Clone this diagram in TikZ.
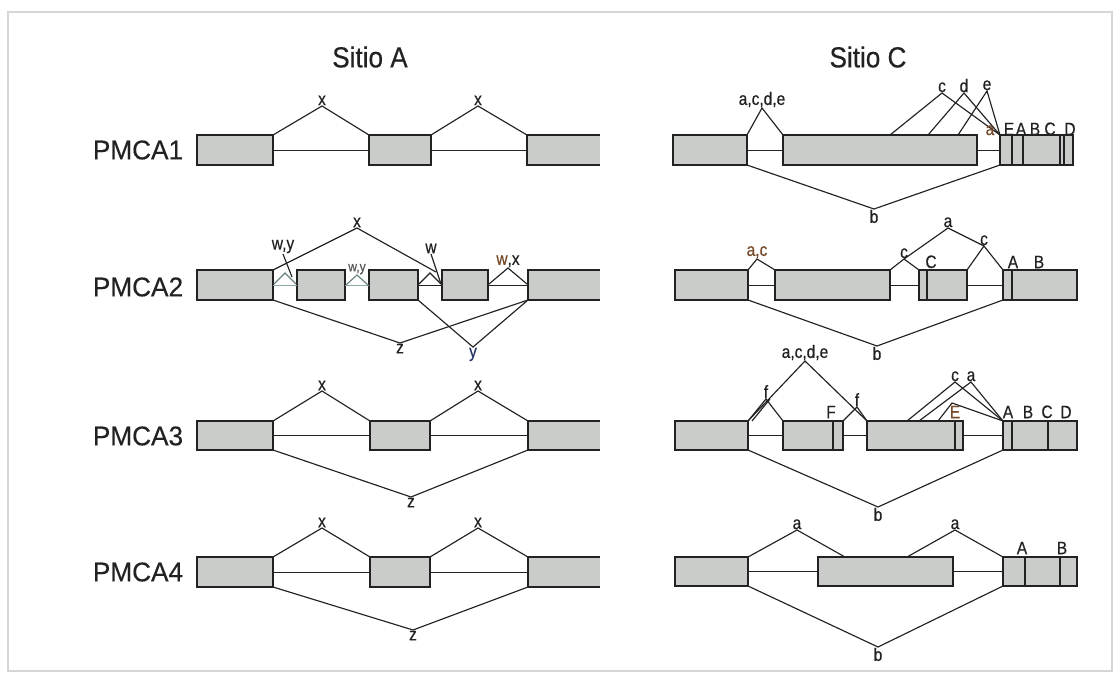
\documentclass[tikz,border=0pt]{standalone}
\usepackage{fontspec}
\setmainfont{Liberation Sans}
\newfontfamily\narrowfont[FakeStretch=0.86,FakeBold=0.5]{Liberation Sans}
\newfontfamily\headfont[FakeStretch=0.9,FakeBold=0.3]{Liberation Sans}
\newfontfamily\rowfont[FakeStretch=0.97,FakeBold=0.3]{Liberation Sans}
\usetikzlibrary{calc}
\definecolor{exonfill}{RGB}{201,204,201}
\definecolor{ink}{RGB}{34,34,34}
\definecolor{framegray}{RGB}{214,214,214}
\definecolor{brownlab}{RGB}{118,74,42}
\definecolor{bluelab}{RGB}{40,56,100}
\definecolor{paleline}{RGB}{140,168,168}
\begin{document}
\begin{tikzpicture}[x=1pt,y=-1pt,
  exon/.style={fill=exonfill, draw=ink, line width=1.2pt, inner sep=0pt, outer sep=0pt, anchor=north west, minimum height=30pt},
  exonopen/.style={fill=exonfill, draw=none, inner sep=0pt, outer sep=0pt, anchor=north west, minimum height=30pt},
  exonedge/.style={draw=ink, line width=1.2pt},
  exline/.style={draw=ink, line width=1.1pt},
  splice/.style={draw=ink, line width=1.15pt},
  intron/.style={draw=ink, line width=1pt},
  lab/.style={font=\narrowfont\fontsize{18}{18}\selectfont, text=ink, inner sep=0.6pt},
  smalllab/.style={font=\narrowfont\fontsize{14}{14}\selectfont, text=ink!75, inner sep=0.5pt},
  headlab/.style={font=\headfont\fontsize{29}{29}\selectfont, text=ink},
  rowlab/.style={font=\rowfont\fontsize{27}{27}\selectfont, text=ink}
]
\fill[white] (0,0) rectangle (1120,681);
\useasboundingbox (0,0) rectangle (1120,681);
\draw[framegray, line width=1.6pt] (8,12) rectangle (1112,671);

% column headings and row names
\node[headlab] (hA) at (370,57) {Sitio A};
\node[headlab] (hC) at (868,57) {Sitio C};
\node[rowlab] (r1) at (138,150) {PMCA1};
\node[rowlab] (r2) at (138,287) {PMCA2};
\node[rowlab] (r3) at (138,436) {PMCA3};
\node[rowlab] (r4) at (138,572) {PMCA4};

% ================= Sitio A =================
% PMCA1
\node[exon, minimum width=76pt] (A1a) at (197,135) {};
\node[exon, minimum width=62pt] (A1b) at (369,135) {};
\node[exonopen, minimum width=73pt] (A1c) at (527,135) {};
\draw[exonedge] (A1c.north east) -- (A1c.north west) -- (A1c.south west) -- (A1c.south east);
\draw[intron] (A1a.east) -- (A1b.west);
\draw[intron] (A1b.east) -- (A1c.west);
\node[lab, anchor=south] (A1x1) at (322,106) {x};
\node[lab, anchor=south] (A1x2) at (478,106) {x};
\draw[splice] (A1a.north east) -- (A1x1.south) -- (A1b.north west);
\draw[splice] (A1b.north east) -- (A1x2.south) -- (A1c.north west);

% PMCA2
\node[exon, minimum width=76pt] (A2a) at (197,270) {};
\node[exon, minimum width=48pt] (A2b) at (297,270) {};
\node[exon, minimum width=49pt] (A2c) at (369,270) {};
\node[exon, minimum width=46pt] (A2d) at (442,270) {};
\node[exonopen, minimum width=72pt] (A2e) at (528,270) {};
\draw[exonedge] (A2e.north east) -- (A2e.north west) -- (A2e.south west) -- (A2e.south east);
\draw[intron, paleline] (A2a.east) -- (A2b.west);
\draw[intron, paleline] (A2b.east) -- (A2c.west);
\draw[intron] (A2c.east) -- (A2d.west);
\draw[intron] (A2d.east) -- (A2e.west);
\node[lab, anchor=south] (A2x) at (357,228) {x};
\coordinate (A2xend) at (436,272);
\draw[splice] (A2a.north east) -- (A2x.south) -- (A2xend);
% small alternative sites between the short exons
\node[lab, anchor=south] (A2wy1) at (283,254) {w,y};
\coordinate (A2g1l) at (274,284); \coordinate (A2g1t) at (285,273); \coordinate (A2g1r) at (296,284);
\draw[splice, paleline!70!ink] (A2g1l) -- (A2g1t) -- (A2g1r);
\coordinate (A2g1s) at (292,277);
\draw[splice] (A2wy1.south) -- (A2g1s);
\node[smalllab, anchor=south] (A2wy2) at (357,275) {w,y};
\coordinate (A2g2l) at (346,285); \coordinate (A2g2r) at (368,285);
\draw[splice, paleline!70!ink] (A2g2l) -- (A2wy2.south) -- (A2g2r);
\node[lab, anchor=south] (A2w) at (431,254) {w};
\coordinate (A2g3l) at (419,284); \coordinate (A2g3t) at (430,273); \coordinate (A2g3r) at (441,284);
\draw[splice] (A2g3l) -- (A2g3t) -- (A2g3r);
\draw[splice] (A2w.south) -- (A2g3r);
\node[lab, anchor=south] (A2wx) at (508,268) {\textcolor{brownlab}{w},x};
\coordinate (A2g4l) at (489,284); \coordinate (A2g4r) at (527,284);
\draw[splice] (A2g4l) -- (A2wx.south) -- (A2g4r);
\node[lab, anchor=north] (A2z) at (400,343) {z};
\draw[splice] (A2a.south east) -- (A2z.north) -- (A2e.south west);
\node[lab, anchor=north, text=bluelab] (A2y) at (473,347) {y};
\draw[splice] (A2c.south east) -- (A2y.north) -- (A2e.south west);

% PMCA3
\node[exon, minimum width=76pt, minimum height=29pt] (A3a) at (197,421) {};
\node[exon, minimum width=60pt, minimum height=29pt] (A3b) at (370,421) {};
\node[exonopen, minimum width=72pt, minimum height=29pt] (A3c) at (528,421) {};
\draw[exonedge] (A3c.north east) -- (A3c.north west) -- (A3c.south west) -- (A3c.south east);
\draw[intron] (A3a.east) -- (A3b.west);
\draw[intron] (A3b.east) -- (A3c.west);
\node[lab, anchor=south] (A3x1) at (322,391) {x};
\node[lab, anchor=south] (A3x2) at (478,391) {x};
\draw[splice] (A3a.north east) -- (A3x1.south) -- (A3b.north west);
\draw[splice] (A3b.north east) -- (A3x2.south) -- (A3c.north west);
\node[lab, anchor=north] (A3z) at (411,497) {z};
\draw[splice] (A3a.south east) -- (A3z.north) -- (A3c.south west);

% PMCA4
\node[exon, minimum width=76pt] (A4a) at (197,557) {};
\node[exon, minimum width=60pt] (A4b) at (370,557) {};
\node[exonopen, minimum width=72pt] (A4c) at (528,557) {};
\draw[exonedge] (A4c.north east) -- (A4c.north west) -- (A4c.south west) -- (A4c.south east);
\draw[intron] (A4a.east) -- (A4b.west);
\draw[intron] (A4b.east) -- (A4c.west);
\node[lab, anchor=south] (A4x1) at (322,528) {x};
\node[lab, anchor=south] (A4x2) at (478,528) {x};
\draw[splice] (A4a.north east) -- (A4x1.south) -- (A4b.north west);
\draw[splice] (A4b.north east) -- (A4x2.south) -- (A4c.north west);
\node[lab, anchor=north] (A4z) at (413,630) {z};
\draw[splice] (A4a.south east) -- (A4z.north) -- (A4c.south west);

% ================= Sitio C =================
% PMCA1
\node[exon, minimum width=74pt] (C1a) at (673,135) {};
\node[exon, minimum width=194pt] (C1b) at (783,135) {};
\node[exon, minimum width=73pt] (C1c) at (1000,135) {};
\foreach \dx in {12,23,60,64}
  \draw[exline] ($(C1c.north west)+(\dx,0)$) -- ($(C1c.south west)+(\dx,0)$);
\draw[intron] (C1a.east) -- (C1b.west);
\draw[intron] (C1b.east) -- (C1c.west);
\node[lab, anchor=south] (C1acde) at (762,108) {a,c,d,e};
\draw[splice] (C1a.north east) -- (C1acde.south) -- (C1b.north west);
\node[lab, anchor=south] (C1c1) at (942,93) {c};
\node[lab, anchor=south] (C1d1) at (964,93) {d};
\node[lab, anchor=south] (C1e1) at (987,91) {e};
\coordinate (C1cl) at (890,135);
\coordinate (C1dl) at (928,135);
\coordinate (C1el) at (958,135);
\draw[splice] (C1cl) -- (C1c1.south) -- (C1c.north west);
\draw[splice] (C1dl) -- (C1d1.south) -- (C1c.north west);
\draw[splice] (C1el) -- (C1e1.south) -- (C1c.north west);
\node[lab, anchor=south, text=brownlab] (C1a1) at (990,136) {a};
\node[lab, anchor=south] (C1E) at (1009,136) {E};
\node[lab, anchor=south] (C1A) at (1021,136) {A};
\node[lab, anchor=south] (C1B) at (1035,136) {B};
\node[lab, anchor=south] (C1C) at (1050,136) {C};
\node[lab, anchor=south] (C1D) at (1070,136) {D};
\node[lab, anchor=north] (C1b1) at (874,209) {b};
\draw[splice] (C1a.south east) -- (C1b1.north) -- (C1c.south west);

% PMCA2
\node[exon, minimum width=73pt] (C2a) at (675,270) {};
\node[exon, minimum width=115pt] (C2b) at (775,270) {};
\node[exon, minimum width=48pt] (C2c) at (919,270) {};
\node[exon, minimum width=74pt] (C2d) at (1003,270) {};
\draw[exline] ($(C2c.north west)+(8,0)$) -- ($(C2c.south west)+(8,0)$);
\draw[exline] ($(C2d.north west)+(9,0)$) -- ($(C2d.south west)+(9,0)$);
\draw[intron] (C2a.east) -- (C2b.west);
\draw[intron] (C2b.east) -- (C2c.west);
\draw[intron] (C2c.east) -- (C2d.west);
\node[lab, anchor=south, text=brownlab] (C2ac) at (757,259) {a,c};
\draw[splice] (C2a.north east) -- (C2ac.south) -- (C2b.north west);
\node[lab, anchor=south] (C2cl) at (904,259) {c};
\node[lab, anchor=south] (C2a1) at (948,228) {a};
\node[lab, anchor=south] (C2cr) at (984,246) {c};
\draw[splice] (C2b.north east) -- (C2cl.south) -- (C2a1.south) -- (C2cr.south) -- (C2d.north west);
\draw[splice] (C2cl.south) -- (C2c.north west);
\draw[splice] (C2c.north east) -- (C2cr.south);
\node[lab, anchor=south] (C2C) at (931,269) {C};
\node[lab, anchor=south] (C2A) at (1013,269) {A};
\node[lab, anchor=south] (C2B) at (1039,269) {B};
\node[lab, anchor=north] (C2b1) at (877,346) {b};
\draw[splice] (C2a.south east) -- (C2b1.north) -- (C2d.south west);

% PMCA3
\node[exon, minimum width=73pt, minimum height=29pt] (C3a) at (675,421) {};
\node[exon, minimum width=60pt, minimum height=29pt] (C3b) at (783,421) {};
\node[exon, minimum width=96pt, minimum height=29pt] (C3c) at (867,421) {};
\node[exon, minimum width=74pt, minimum height=29pt] (C3d) at (1003,421) {};
\draw[exline] ($(C3b.north west)+(50,0)$) -- ($(C3b.south west)+(50,0)$);
\draw[exline] ($(C3c.north west)+(88,0)$) -- ($(C3c.south west)+(88,0)$);
\draw[exline] ($(C3d.north west)+(9,0)$) -- ($(C3d.south west)+(9,0)$);
\draw[exline] ($(C3d.north west)+(45,0)$) -- ($(C3d.south west)+(45,0)$);
\draw[intron] (C3a.east) -- (C3b.west);
\draw[intron] (C3b.east) -- (C3c.west);
\draw[intron] (C3c.east) -- (C3d.west);
\node[lab, anchor=south] (C3acde) at (805,361) {a,c,d,e};
\draw[splice] (C3a.north east) -- (C3acde.south) -- (C3c.north west);
\node[lab, anchor=south] (C3f1) at (766,399) {f};
\draw[splice] (C3a.north east) -- (C3f1.south) -- (C3b.north west);
\coordinate (C3f1d) at (752,421);
\draw[splice] (C3f1d) -- ($(C3f1.south)+(4,0)$);
\node[lab, anchor=south] (C3f2) at (857,407) {f};
\draw[splice] (C3b.north east) -- (C3f2.south) -- (C3c.north west);
\node[lab, anchor=south] (C3F) at (831,419) {F};
\node[lab, anchor=south] (C3c1) at (955,382) {c};
\node[lab, anchor=south] (C3a1) at (971,382) {a};
\coordinate (C3cl) at (907,421);
\coordinate (C3al) at (919,421);
\coordinate (C3el) at (938,421);
\coordinate (C3et) at (952,403);
\draw[splice] (C3cl) -- (C3c1.south) -- (C3d.north west);
\draw[splice] (C3al) -- (C3a1.south) -- (C3d.north west);
\draw[splice] (C3el) -- (C3et) -- (C3d.north west);
\node[lab, anchor=south, text=brownlab] (C3E) at (955,419) {E};
\node[lab, anchor=south] (C3A) at (1008,419) {A};
\node[lab, anchor=south] (C3B) at (1028,419) {B};
\node[lab, anchor=south] (C3C) at (1047,419) {C};
\node[lab, anchor=south] (C3D) at (1066,419) {D};
\node[lab, anchor=north] (C3b1) at (878,507) {b};
\draw[splice] (C3a.south east) -- (C3b1.north) -- (C3d.south west);

% PMCA4
\node[exon, minimum width=73pt, minimum height=29pt] (C4a) at (675,557) {};
\node[exon, minimum width=135pt, minimum height=29pt] (C4b) at (818,557) {};
\node[exon, minimum width=74pt, minimum height=29pt] (C4c) at (1003,557) {};
\draw[exline] ($(C4c.north west)+(22,0)$) -- ($(C4c.south west)+(22,0)$);
\draw[exline] ($(C4c.north west)+(57,0)$) -- ($(C4c.south west)+(57,0)$);
\draw[intron] (C4a.east) -- (C4b.west);
\draw[intron] (C4b.east) -- (C4c.west);
\node[lab, anchor=south] (C4a1) at (797,530) {a};
\node[lab, anchor=south] (C4a2) at (955,530) {a};
\coordinate (C4a1r) at (845,557);
\coordinate (C4a2l) at (907,557);
\draw[splice] (C4a.north east) -- (C4a1.south) -- (C4a1r);
\draw[splice] (C4a2l) -- (C4a2.south) -- (C4c.north west);
\node[lab, anchor=south] (C4A) at (1022,555) {A};
\node[lab, anchor=south] (C4B) at (1062,555) {B};
\node[lab, anchor=north] (C4b1) at (878,647) {b};
\draw[splice] (C4a.south east) -- (C4b1.north) -- (C4c.south west);
\end{tikzpicture}
\end{document}
